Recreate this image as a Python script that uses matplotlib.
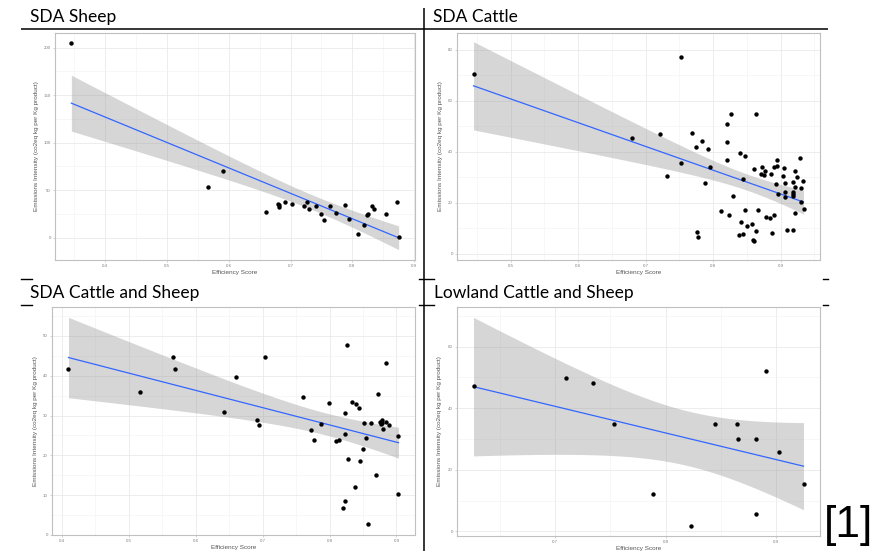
import numpy as np
import matplotlib
matplotlib.use("Agg")
import matplotlib.pyplot as plt
from matplotlib.ticker import FixedLocator

# --- data (efficiency score vs emissions intensity)
sheep_x = [0.345, 0.566, 0.591, 0.661, 0.680, 0.681, 0.682, 0.691, 0.703, 0.721,
           0.727, 0.730, 0.741, 0.750, 0.754, 0.764, 0.774, 0.788, 0.794, 0.810,
           0.819, 0.824, 0.825, 0.832, 0.835, 0.855, 0.873, 0.875]
sheep_y = [204.5, 53.1, 69.6, 26.9, 35.7, 33.9, 32.5, 37.8, 35.7, 32.9,
           37.8, 30.4, 33.2, 24.5, 18.2, 33.2, 25.9, 34.6, 19.6, 3.8,
           13.6, 23.4, 24.5, 32.9, 29.7, 24.8, 37.4, 1.0]

cattle_x = [0.445, 0.752, 0.680, 0.722, 0.731, 0.752, 0.769, 0.774, 0.783, 0.793,
            0.776, 0.777, 0.788, 0.795, 0.812, 0.820, 0.821, 0.821, 0.823, 0.827,
            0.830, 0.840, 0.839, 0.842, 0.844, 0.845, 0.848, 0.848, 0.851, 0.857,
            0.859, 0.860, 0.860, 0.863, 0.864, 0.866, 0.871, 0.873, 0.875, 0.877,
            0.879, 0.885, 0.886, 0.888, 0.890, 0.891, 0.893, 0.894, 0.895, 0.896,
            0.905, 0.904, 0.906, 0.907, 0.906, 0.910, 0.918, 0.918, 0.918, 0.919,
            0.919, 0.921, 0.922, 0.922, 0.925, 0.929, 0.931, 0.931, 0.933, 0.934]
cattle_y = [70.6, 77.0, 45.4, 47.1, 30.6, 35.4, 47.3, 42.0, 44.1, 40.9,
            8.5, 6.7, 27.7, 34.2, 16.6, 50.8, 43.9, 36.6, 15.4, 54.8,
            22.5, 39.5, 7.5, 12.3, 29.4, 7.7, 38.4, 17.0, 11.0, 11.6,
            5.5, 5.1, 33.2, 54.8, 8.8, 17.1, 31.4, 34.0, 30.7, 32.3,
            14.5, 14.0, 31.4, 8.1, 15.3, 34.2, 27.3, 36.7, 34.5, 23.4,
            33.7, 30.6, 27.6, 24.3, 22.4, 9.4, 28.0, 24.4, 23.5, 22.7,
            9.2, 32.4, 26.0, 15.9, 30.3, 37.5, 25.8, 20.4, 28.4, 17.5]

mixed_x = [0.410, 0.517, 0.566, 0.569, 0.643, 0.660, 0.692, 0.695, 0.704, 0.760,
           0.772, 0.777, 0.787, 0.799, 0.809, 0.814, 0.820, 0.823, 0.823, 0.823,
           0.827, 0.826, 0.834, 0.839, 0.838, 0.844, 0.845, 0.850, 0.852, 0.855,
           0.858, 0.862, 0.869, 0.872, 0.876, 0.877, 0.878, 0.879, 0.880, 0.884,
           0.885, 0.889, 0.903, 0.902]
mixed_y = [41.8, 35.9, 44.6, 41.6, 31.0, 39.6, 29.0, 27.6, 44.8, 34.7,
           26.3, 23.8, 27.9, 33.2, 23.6, 23.9, 6.7, 30.7, 8.6, 25.3,
           19.0, 47.8, 33.3, 32.9, 12.0, 32.0, 18.7, 21.5, 28.1, 24.3,
           2.7, 28.1, 15.0, 35.3, 28.5, 27.9, 28.8, 28.2, 26.7, 43.1,
           28.3, 27.7, 24.8, 10.4]

lowland_x = [0.626, 0.710, 0.734, 0.753, 0.789, 0.823, 0.845, 0.865, 0.866, 0.882,
             0.882, 0.891, 0.903, 0.925]
lowland_y = [47.1, 49.7, 48.3, 34.9, 12.3, 1.9, 34.7, 34.9, 29.9, 29.9,
             5.5, 52.0, 25.7, 15.3]

titles = ["SDA Sheep", "SDA Cattle", "SDA Cattle and Sheep", "Lowland Cattle and Sheep"]
xticks = [[0.4, 0.5, 0.6, 0.7, 0.8, 0.9], [0.5, 0.6, 0.7, 0.8, 0.9],
          [0.4, 0.5, 0.6, 0.7, 0.8, 0.9], [0.7, 0.8, 0.9]]
yticks = [[0, 50, 100, 150, 200], [0, 20, 40, 60, 80],
          [0, 10, 20, 30, 40, 50], [0, 20, 40, 60]]
# y range of the cattle panel reaches a bit below zero in the original
ylim_override = [None, (-2.4, 86.5), None, None]

W, H = 884, 551
TITLE_FONT = ["Lato", "DejaVu Sans"]
SMALL_FONT = ["Liberation Sans", "DejaVu Sans"]


def t975(df):
    # Cornish-Fisher approximation of the 97.5% t quantile
    z = 1.959964
    g1 = (z**3 + z) / 4
    g2 = (5*z**5 + 16*z**3 + 3*z) / 96
    g3 = (3*z**7 + 19*z**5 + 17*z**3 - 15*z) / 384
    return z + g1/df + g2/df**2 + g3/df**3


def lm_band(x, y, n=80):
    x = np.asarray(x); y = np.asarray(y)
    b, a = np.polyfit(x, y, 1)
    xs = np.linspace(x.min(), x.max(), n)
    fit = a + b*xs
    resid = y - (a + b*x)
    df = len(x) - 2
    s = np.sqrt(np.sum(resid**2) / df)
    se = s*np.sqrt(1/len(x) + (xs - x.mean())**2 / np.sum((x - x.mean())**2))
    t = t975(df)
    return xs, fit, fit - t*se, fit + t*se


def box(l, t, r, b):
    return [l/W, 1 - b/H, (r - l)/W, (b - t)/H]


fig = plt.figure(figsize=(W/100, H/100), dpi=100)

panels = [(sheep_x, sheep_y, box(55, 33, 415, 260), 39),
          (cattle_x, cattle_y, box(457, 33, 820, 260), 443),
          (mixed_x, mixed_y, box(52, 307, 415, 535), 38),
          (lowland_x, lowland_y, box(457, 307, 820, 536), 442)]

for i, (px, py, rect, ylab_x) in enumerate(panels):
    ax = fig.add_axes(rect)
    xs, fit, lo, hi = lm_band(px, py)
    ax.fill_between(xs, lo, hi, color="#999999", alpha=0.4, lw=0, zorder=1)
    ax.plot(xs, fit, color="#3366FF", lw=0.9, zorder=2)
    ax.scatter(px, py, s=10, c="black", lw=0, zorder=3)

    # ggplot style 5% expansion
    xmin, xmax = min(px), max(px)
    ymin, ymax = min(min(py), lo.min()), max(max(py), hi.max())
    ax.set_xlim(xmin - 0.05*(xmax - xmin), xmax + 0.05*(xmax - xmin))
    if ylim_override[i]:
        ax.set_ylim(*ylim_override[i])
    else:
        ax.set_ylim(ymin - 0.05*(ymax - ymin), ymax + 0.05*(ymax - ymin))

    xt = xticks[i]; yt = yticks[i]
    ax.set_xticks(xt)
    ax.set_yticks(yt)
    ax.set_xticklabels([f"{v:.1f}" for v in xt])
    ax.set_yticklabels([str(v) for v in yt])
    xm = [v - (xt[1] - xt[0])/2 for v in xt] + [xt[-1] + (xt[1] - xt[0])/2]
    ym = [v - (yt[1] - yt[0])/2 for v in yt] + [yt[-1] + (yt[1] - yt[0])/2]
    ax.xaxis.set_minor_locator(FixedLocator(xm))
    ax.yaxis.set_minor_locator(FixedLocator(ym))
    ax.grid(which="major", color="#e6e6e6", lw=0.5, zorder=0)
    ax.grid(which="minor", color="#f1f1f1", lw=0.4, zorder=0)
    ax.set_axisbelow(True)
    ax.tick_params(which="major", length=1.5, width=0.4, color="#b3b3b3",
                   labelsize=3.2, labelcolor="#808080", pad=1.5)
    ax.tick_params(which="minor", length=0)
    for sp in ax.spines.values():
        sp.set_color("#c0c0c0")
        sp.set_linewidth(0.8)
    for lab in ax.get_xticklabels() + ax.get_yticklabels():
        lab.set_family(SMALL_FONT)

    ax.set_xlabel("Efficiency Score", fontsize=4.6, color="#555555",
                  family=SMALL_FONT, labelpad=1.5)
    ax.set_ylabel("Emissions Intensity (co2eq kg per Kg product)", fontsize=4.6,
                  color="#555555", family=SMALL_FONT)
    l = rect[0]*W
    ax.yaxis.set_label_coords((ylab_x - l)/(rect[2]*W), 0.5)

# --- document overlay: titles, table borders, citation
ov = fig.add_axes([0, 0, 1, 1], zorder=10)
ov.set_xlim(0, W)
ov.set_ylim(H, 0)
ov.axis("off")

title_pos = [(30, 22), (433, 22), (30, 298), (434, 298)]
for (tx, ty), t in zip(title_pos, titles):
    ov.text(tx, ty, t, fontsize=12.5, family=TITLE_FONT, color="black",
            ha="left", va="baseline")

ov.plot([21, 828], [29, 29], color="black", lw=1.1, solid_capstyle="butt")
ov.plot([424, 424], [8, H], color="black", lw=1.1, solid_capstyle="butt")
for yy in (279, 305):
    ov.plot([21, 32], [yy, yy], color="black", lw=1.0)
    ov.plot([419, 434], [yy, yy], color="black", lw=1.0)
    ov.plot([823, 828], [yy, yy], color="black", lw=1.0)

ov.text(824, 537, "[1]", fontsize=32, family=SMALL_FONT, color="black",
        ha="left", va="baseline")

fig.savefig("out.png", dpi=100)
